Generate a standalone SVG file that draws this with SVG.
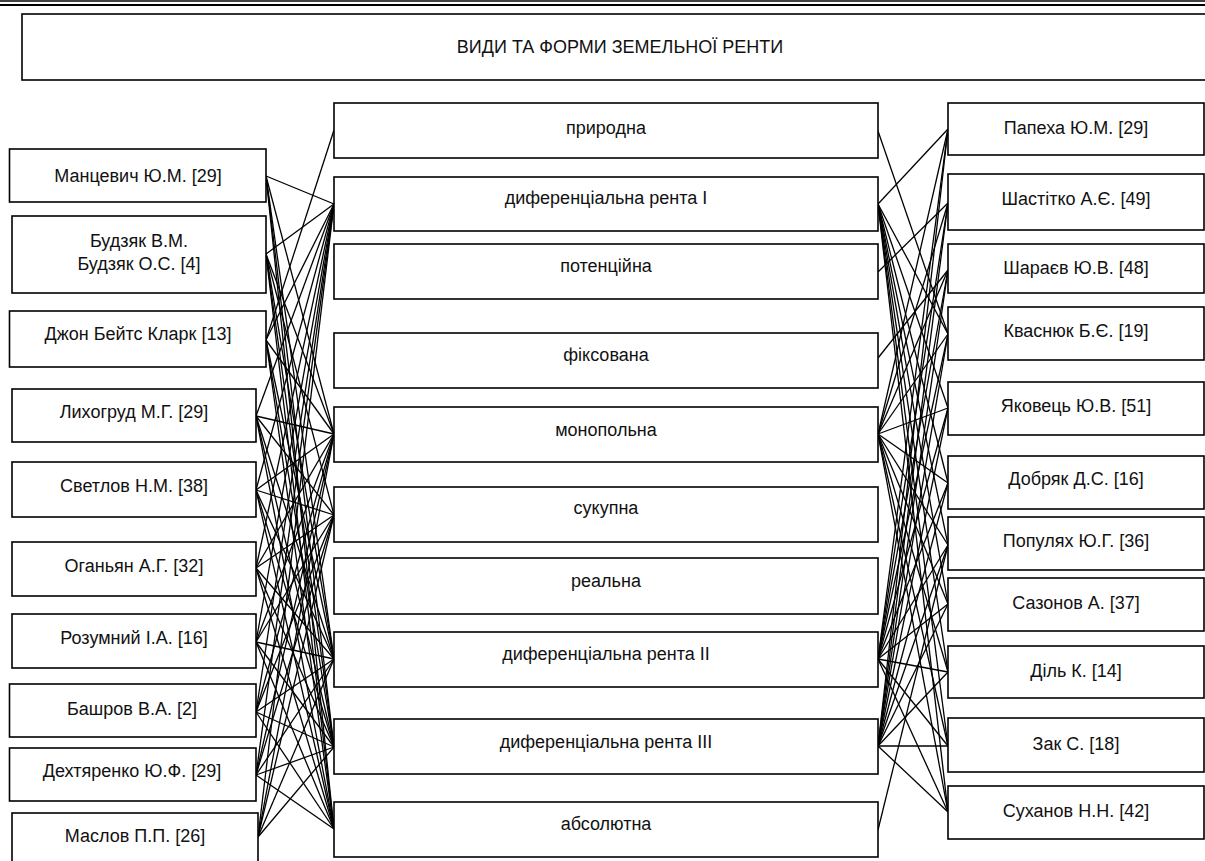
<svg xmlns="http://www.w3.org/2000/svg" width="1205" height="861" viewBox="0 0 1205 861">
<style>
.b{fill:#fff;stroke:#000;stroke-width:1.6}
.t{font-family:"Liberation Sans",Arial,sans-serif;font-size:18px;fill:#111;text-anchor:middle}
#connectors line{stroke:#000;stroke-width:1.3}
</style>
<rect width="1205" height="861" fill="#fff"/>
<g id="topRule">
<line x1="0" y1="1" x2="1205" y2="1" stroke="#000" stroke-width="1.4"/>
<line x1="0" y1="5" x2="1205" y2="5" stroke="#000" stroke-width="2.2"/>
</g>
<g id="title"><rect class="b" x="22" y="14" width="1200" height="66"/><text class="t" x="620" y="53">ВИДИ ТА ФОРМИ ЗЕМЕЛЬНОЇ РЕНТИ</text></g>

<g id="connectors">
<!-- left side -->
<line x1="266" y1="176" x2="334" y2="204"/>
<line x1="266" y1="176" x2="334" y2="434"/>
<line x1="266" y1="176" x2="334" y2="659"/>
<line x1="266" y1="176" x2="334" y2="747"/>
<line x1="266" y1="176" x2="334" y2="829"/>
<line x1="266" y1="254" x2="334" y2="204"/>
<line x1="266" y1="254" x2="334" y2="434"/>
<line x1="266" y1="254" x2="334" y2="515"/>
<line x1="266" y1="254" x2="334" y2="659"/>
<line x1="266" y1="254" x2="334" y2="747"/>
<line x1="266" y1="254" x2="334" y2="829"/>
<line x1="266" y1="340" x2="334" y2="130"/>
<line x1="266" y1="340" x2="334" y2="204"/>
<line x1="266" y1="340" x2="334" y2="434"/>
<line x1="266" y1="340" x2="334" y2="659"/>
<line x1="266" y1="340" x2="334" y2="747"/>
<line x1="266" y1="340" x2="334" y2="829"/>
<line x1="256" y1="416" x2="334" y2="204"/>
<line x1="256" y1="416" x2="334" y2="434"/>
<line x1="256" y1="416" x2="334" y2="515"/>
<line x1="256" y1="416" x2="334" y2="659"/>
<line x1="256" y1="416" x2="334" y2="747"/>
<line x1="256" y1="416" x2="334" y2="829"/>
<line x1="256" y1="490" x2="334" y2="204"/>
<line x1="256" y1="490" x2="334" y2="434"/>
<line x1="256" y1="490" x2="334" y2="515"/>
<line x1="256" y1="490" x2="334" y2="659"/>
<line x1="256" y1="490" x2="334" y2="747"/>
<line x1="256" y1="490" x2="334" y2="829"/>
<line x1="256" y1="568" x2="334" y2="204"/>
<line x1="256" y1="568" x2="334" y2="434"/>
<line x1="256" y1="568" x2="334" y2="515"/>
<line x1="256" y1="568" x2="334" y2="659"/>
<line x1="256" y1="568" x2="334" y2="747"/>
<line x1="256" y1="568" x2="334" y2="829"/>
<line x1="256" y1="642" x2="334" y2="204"/>
<line x1="256" y1="642" x2="334" y2="434"/>
<line x1="256" y1="642" x2="334" y2="515"/>
<line x1="256" y1="642" x2="334" y2="659"/>
<line x1="256" y1="642" x2="334" y2="747"/>
<line x1="256" y1="642" x2="334" y2="829"/>
<line x1="256" y1="712" x2="334" y2="204"/>
<line x1="256" y1="712" x2="334" y2="434"/>
<line x1="256" y1="712" x2="334" y2="515"/>
<line x1="256" y1="712" x2="334" y2="659"/>
<line x1="256" y1="712" x2="334" y2="747"/>
<line x1="256" y1="712" x2="334" y2="829"/>
<line x1="256" y1="775" x2="334" y2="204"/>
<line x1="256" y1="775" x2="334" y2="434"/>
<line x1="256" y1="775" x2="334" y2="515"/>
<line x1="256" y1="775" x2="334" y2="659"/>
<line x1="256" y1="775" x2="334" y2="747"/>
<line x1="256" y1="775" x2="334" y2="829"/>
<line x1="258" y1="837" x2="334" y2="204"/>
<line x1="258" y1="837" x2="334" y2="434"/>
<line x1="258" y1="837" x2="334" y2="515"/>
<line x1="258" y1="837" x2="334" y2="659"/>
<line x1="258" y1="837" x2="334" y2="747"/>
<!-- right side -->
<line x1="878" y1="131" x2="948" y2="334"/>
<line x1="878" y1="204" x2="948" y2="129"/>
<line x1="878" y1="204" x2="948" y2="334"/>
<line x1="878" y1="204" x2="948" y2="408"/>
<line x1="878" y1="204" x2="948" y2="483"/>
<line x1="878" y1="204" x2="948" y2="545"/>
<line x1="878" y1="204" x2="948" y2="604"/>
<line x1="878" y1="204" x2="948" y2="672"/>
<line x1="878" y1="204" x2="948" y2="746"/>
<line x1="878" y1="204" x2="948" y2="812"/>
<line x1="878" y1="272" x2="948" y2="203"/>
<line x1="878" y1="358" x2="948" y2="270"/>
<line x1="878" y1="434" x2="948" y2="129"/>
<line x1="878" y1="434" x2="948" y2="203"/>
<line x1="878" y1="434" x2="948" y2="270"/>
<line x1="878" y1="434" x2="948" y2="334"/>
<line x1="878" y1="434" x2="948" y2="408"/>
<line x1="878" y1="434" x2="948" y2="483"/>
<line x1="878" y1="434" x2="948" y2="545"/>
<line x1="878" y1="434" x2="948" y2="604"/>
<line x1="878" y1="434" x2="948" y2="672"/>
<line x1="878" y1="434" x2="948" y2="746"/>
<line x1="878" y1="434" x2="948" y2="812"/>
<line x1="878" y1="659" x2="948" y2="129"/>
<line x1="878" y1="659" x2="948" y2="203"/>
<line x1="878" y1="659" x2="948" y2="270"/>
<line x1="878" y1="659" x2="948" y2="334"/>
<line x1="878" y1="659" x2="948" y2="408"/>
<line x1="878" y1="659" x2="948" y2="483"/>
<line x1="878" y1="659" x2="948" y2="545"/>
<line x1="878" y1="659" x2="948" y2="604"/>
<line x1="878" y1="659" x2="948" y2="672"/>
<line x1="878" y1="659" x2="948" y2="746"/>
<line x1="878" y1="659" x2="948" y2="812"/>
<line x1="878" y1="746" x2="948" y2="129"/>
<line x1="878" y1="746" x2="948" y2="203"/>
<line x1="878" y1="746" x2="948" y2="270"/>
<line x1="878" y1="746" x2="948" y2="334"/>
<line x1="878" y1="746" x2="948" y2="408"/>
<line x1="878" y1="746" x2="948" y2="483"/>
<line x1="878" y1="746" x2="948" y2="545"/>
<line x1="878" y1="746" x2="948" y2="604"/>
<line x1="878" y1="746" x2="948" y2="672"/>
<line x1="878" y1="746" x2="948" y2="746"/>
<line x1="878" y1="746" x2="948" y2="812"/>
<line x1="878" y1="830" x2="948" y2="545"/>
</g>

<!-- left nodes -->
<g id="mantsevych"><rect class="b" x="9.5" y="149" width="256.5" height="53"/><text class="t" x="138" y="181.5">Манцевич Ю.М. [29]</text></g>
<g id="budzyak"><rect class="b" x="12" y="216" width="254" height="77"/><text class="t" x="139" y="246.5">Будзяк В.М.</text><text class="t" x="139" y="269.5">Будзяк О.С. [4]</text></g>
<g id="clark"><rect class="b" x="9.5" y="311" width="256.5" height="56"/><text class="t" x="138" y="339.5">Джон Бейтс Кларк [13]</text></g>
<g id="lykhohrud"><rect class="b" x="12" y="389" width="244" height="53"/><text class="t" x="134" y="417.5">Лихогруд М.Г. [29]</text></g>
<g id="svetlov"><rect class="b" x="12" y="462" width="244" height="55"/><text class="t" x="134" y="491.5">Светлов Н.М. [38]</text></g>
<g id="ohanyan"><rect class="b" x="12" y="542" width="244" height="54"/><text class="t" x="134" y="571.5">Оганьян А.Г. [32]</text></g>
<g id="rozumnyi"><rect class="b" x="12" y="614" width="244" height="54"/><text class="t" x="134" y="643.5">Розумний І.А. [16]</text></g>
<g id="bashrov"><rect class="b" x="9.5" y="684" width="246.5" height="53"/><text class="t" x="132" y="714.5">Башров В.А. [2]</text></g>
<g id="dekhtyarenko"><rect class="b" x="9.5" y="748" width="246.5" height="53"/><text class="t" x="132" y="776.5">Дехтяренко Ю.Ф. [29]</text></g>
<g id="maslov"><rect class="b" x="12" y="813" width="246" height="60"/><text class="t" x="135" y="841.5">Маслов П.П. [26]</text></g>

<!-- center nodes -->
<g id="pryrodna"><rect class="b" x="334" y="103" width="544" height="55"/><text class="t" x="606" y="134">природна</text></g>
<g id="dyf1"><rect class="b" x="334" y="177" width="544" height="54"/><text class="t" x="606" y="204">диференціальна рента I</text></g>
<g id="potentsiina"><rect class="b" x="334" y="244" width="544" height="55"/><text class="t" x="606" y="272">потенційна</text></g>
<g id="fiksovana"><rect class="b" x="334" y="333" width="544" height="55"/><text class="t" x="606" y="361">фіксована</text></g>
<g id="monopolna"><rect class="b" x="334" y="407" width="544" height="55"/><text class="t" x="606" y="436">монопольна</text></g>
<g id="sukupna"><rect class="b" x="334" y="487" width="544" height="55"/><text class="t" x="606" y="514">сукупна</text></g>
<g id="realna"><rect class="b" x="334" y="558" width="544" height="56"/><text class="t" x="606" y="587">реальна</text></g>
<g id="dyf2"><rect class="b" x="334" y="632" width="544" height="55"/><text class="t" x="606" y="660">диференціальна рента II</text></g>
<g id="dyf3"><rect class="b" x="334" y="719" width="544" height="55"/><text class="t" x="606" y="748">диференціальна рента III</text></g>
<g id="absolyutna"><rect class="b" x="334" y="802" width="544" height="55"/><text class="t" x="606" y="830">абсолютна</text></g>

<!-- right nodes -->
<g id="papekha"><rect class="b" x="948" y="103" width="256" height="52"/><text class="t" x="1076" y="133.5">Папеха Ю.М. [29]</text></g>
<g id="shastitko"><rect class="b" x="948" y="174" width="256" height="56"/><text class="t" x="1076" y="204.5">Шастітко А.Є. [49]</text></g>
<g id="sharaev"><rect class="b" x="948" y="244" width="256" height="49"/><text class="t" x="1076" y="273.5">Шараєв Ю.В. [48]</text></g>
<g id="kvasniuk"><rect class="b" x="948" y="307" width="256" height="53"/><text class="t" x="1076" y="336.5">Кваснюк Б.Є. [19]</text></g>
<g id="yakovets"><rect class="b" x="948" y="382" width="256" height="53"/><text class="t" x="1076" y="411.5">Яковець Ю.В. [51]</text></g>
<g id="dobriak"><rect class="b" x="948" y="456" width="256" height="53"/><text class="t" x="1076" y="484.5">Добряк Д.С. [16]</text></g>
<g id="populiakh"><rect class="b" x="948" y="517" width="256" height="53"/><text class="t" x="1076" y="546.5">Популях Ю.Г. [36]</text></g>
<g id="sazonov"><rect class="b" x="948" y="578" width="256" height="53"/><text class="t" x="1076" y="608.5">Сазонов А. [37]</text></g>
<g id="dil"><rect class="b" x="948" y="646" width="256" height="52"/><text class="t" x="1076" y="676.5">Діль К. [14]</text></g>
<g id="zak"><rect class="b" x="948" y="718" width="256" height="54"/><text class="t" x="1076" y="749.5">Зак С. [18]</text></g>
<g id="sukhanov"><rect class="b" x="948" y="786" width="256" height="53"/><text class="t" x="1076" y="816.5">Суханов Н.Н. [42]</text></g>
</svg>
